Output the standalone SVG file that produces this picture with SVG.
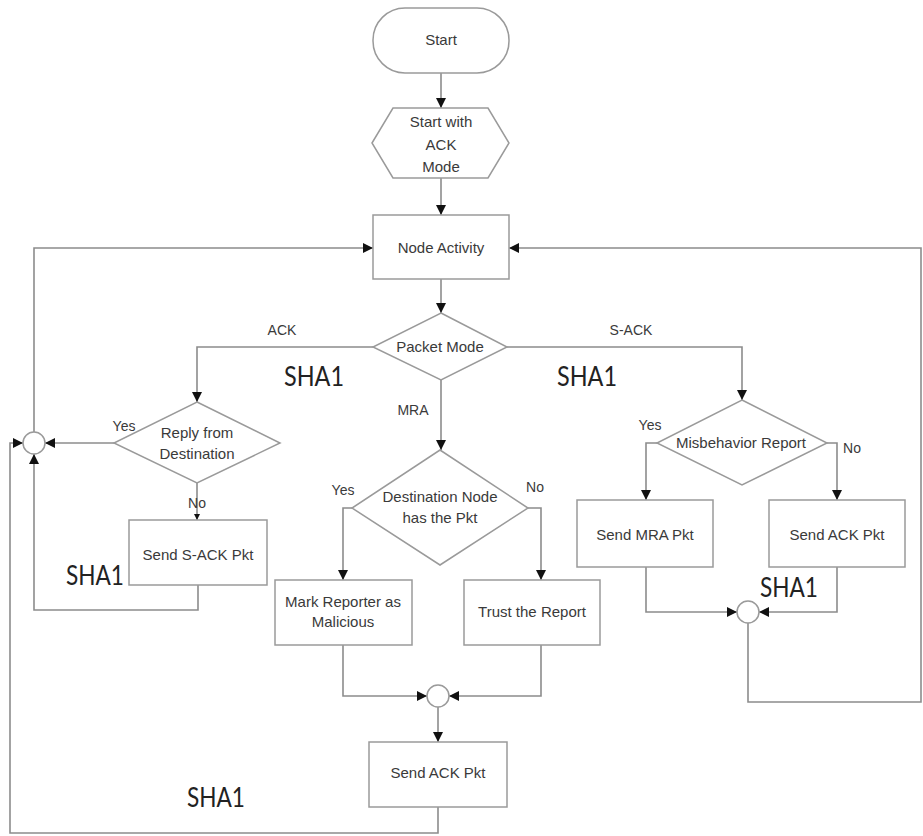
<svg xmlns="http://www.w3.org/2000/svg" width="923" height="836" viewBox="0 0 923 836">
<style>
.shape{fill:#fff;stroke:#9a9a9a;stroke-width:1.5}
.con{fill:none;stroke:#8c8c8c;stroke-width:1.6}
.t{font-family:"Liberation Sans",Arial,sans-serif;font-size:15px;fill:#3a3a3a;text-anchor:middle}
.l{font-family:"Liberation Sans",Arial,sans-serif;font-size:14px;fill:#3a3a3a;text-anchor:middle}
.sha{font-family:Lato,"Open Sans",sans-serif;font-size:27px;fill:#222}
</style>
<defs>
<marker id="ah" markerUnits="userSpaceOnUse" markerWidth="10" markerHeight="10" refX="10" refY="5" orient="auto">
<path d="M0,0 L10,5 L0,10 z" fill="#111"/>
</marker>
<marker id="ahs" markerUnits="userSpaceOnUse" markerWidth="6" markerHeight="6" refX="6" refY="3" orient="auto">
<path d="M0,0 L6,3 L0,6 z" fill="#111"/>
</marker>
</defs>
<rect width="923" height="836" fill="#fff"/>
<g id="connectors">
<path class="con" d="M441,73 V108" marker-end="url(#ah)"/>
<path class="con" d="M441,178 V215" marker-end="url(#ah)"/>
<path class="con" d="M441,279 V313" marker-end="url(#ah)"/>
<path class="con" d="M373,347 H197 V402" marker-end="url(#ah)"/>
<path class="con" d="M507,347 H742 V400" marker-end="url(#ah)"/>
<path class="con" d="M441,380 V450" marker-end="url(#ah)"/>
<path class="con" d="M114,443 H45" marker-end="url(#ah)"/>
<path class="con" d="M197,483 V520" marker-end="url(#ahs)"/>
<path class="con" d="M198,585 V610 H34 V454" marker-end="url(#ah)"/>
<path class="con" d="M438,807 V833 H10 V443 H23" marker-end="url(#ah)"/>
<path class="con" d="M34,432 V248 H373" marker-end="url(#ah)"/>
<path class="con" d="M352,508 H343 V580" marker-end="url(#ah)"/>
<path class="con" d="M528,508 H541 V580" marker-end="url(#ah)"/>
<path class="con" d="M343,645 V696 H427" marker-end="url(#ah)"/>
<path class="con" d="M541,645 V696 H449" marker-end="url(#ah)"/>
<path class="con" d="M438,707 V742" marker-end="url(#ah)"/>
<path class="con" d="M657,443 H646 V500" marker-end="url(#ah)"/>
<path class="con" d="M827,443 H837 V500" marker-end="url(#ah)"/>
<path class="con" d="M646,567 V612 H737" marker-end="url(#ah)"/>
<path class="con" d="M837,567 V612 H759" marker-end="url(#ah)"/>
<path class="con" d="M748,623 V702 H921 V248 H509" marker-end="url(#ah)"/>
</g>
<g id="start"><rect class="shape" x="373" y="8" width="136" height="65" rx="32"/><text class="t" x="441" y="45">Start</text></g>
<g id="ackmode"><polygon class="shape" points="372,143 393,108 488,108 509,143 488,178 393,178"/><text class="t" x="441" y="127">Start with</text><text class="t" x="441" y="150">ACK</text><text class="t" x="441" y="172">Mode</text></g>
<g id="nodeactivity"><rect class="shape" x="373" y="215" width="136" height="64"/><text class="t" x="441" y="253">Node Activity</text></g>
<g id="packetmode"><polygon class="shape" points="441,313 507,347 441,380 373,347"/><text class="t" x="440" y="352">Packet Mode</text></g>
<g id="reply"><polygon class="shape" points="197,402 280,443 197,483 114,443"/><text class="t" x="197" y="438">Reply from</text><text class="t" x="197" y="459">Destination</text></g>
<g id="sendsack"><rect class="shape" x="129" y="520" width="138" height="65"/><text class="t" x="198" y="560">Send S-ACK Pkt</text></g>
<g id="destnode"><polygon class="shape" points="440,450 528,508 440,565 352,508"/><text class="t" x="440" y="502">Destination Node</text><text class="t" x="440" y="523">has the Pkt</text></g>
<g id="markreporter"><rect class="shape" x="275" y="580" width="137" height="65"/><text class="t" x="343" y="607">Mark Reporter as</text><text class="t" x="343" y="627">Malicious</text></g>
<g id="trust"><rect class="shape" x="464" y="580" width="136" height="65"/><text class="t" x="532" y="617">Trust the Report</text></g>
<g id="misbehavior"><polygon class="shape" points="742,400 827,443 742,485 657,443"/><text class="t" x="741" y="448">Misbehavior Report</text></g>
<g id="sendmra"><rect class="shape" x="577" y="500" width="136" height="67"/><text class="t" x="645" y="540">Send MRA Pkt</text></g>
<g id="sendack1"><rect class="shape" x="769" y="500" width="136" height="67"/><text class="t" x="837" y="540">Send ACK Pkt</text></g>
<g id="sendack2"><rect class="shape" x="369" y="742" width="138" height="65"/><text class="t" x="438" y="778">Send ACK Pkt</text></g>
<g id="join1"><circle class="shape" cx="34" cy="443" r="11"/></g>
<g id="join2"><circle class="shape" cx="438" cy="696" r="11"/></g>
<g id="join3"><circle class="shape" cx="748" cy="612" r="11"/></g>
<g id="labels">
<text class="l" x="282" y="335">ACK</text>
<text class="l" x="631" y="335">S-ACK</text>
<text class="l" x="413" y="415">MRA</text>
<text class="l" x="124" y="431">Yes</text>
<text class="l" x="197" y="508">No</text>
<text class="l" x="343" y="495">Yes</text>
<text class="l" x="535" y="492">No</text>
<text class="l" x="650" y="430">Yes</text>
<text class="l" x="852" y="453">No</text>
</g>
<g id="sha1-labels">
<text class="sha" x="284" y="386" textLength="60" lengthAdjust="spacingAndGlyphs">SHA1</text>
<text class="sha" x="557" y="386" textLength="60" lengthAdjust="spacingAndGlyphs">SHA1</text>
<text class="sha" x="66" y="585" textLength="58" lengthAdjust="spacingAndGlyphs">SHA1</text>
<text class="sha" x="760" y="597" textLength="58" lengthAdjust="spacingAndGlyphs">SHA1</text>
<text class="sha" x="187" y="807" textLength="58" lengthAdjust="spacingAndGlyphs">SHA1</text>
</g>
</svg>
